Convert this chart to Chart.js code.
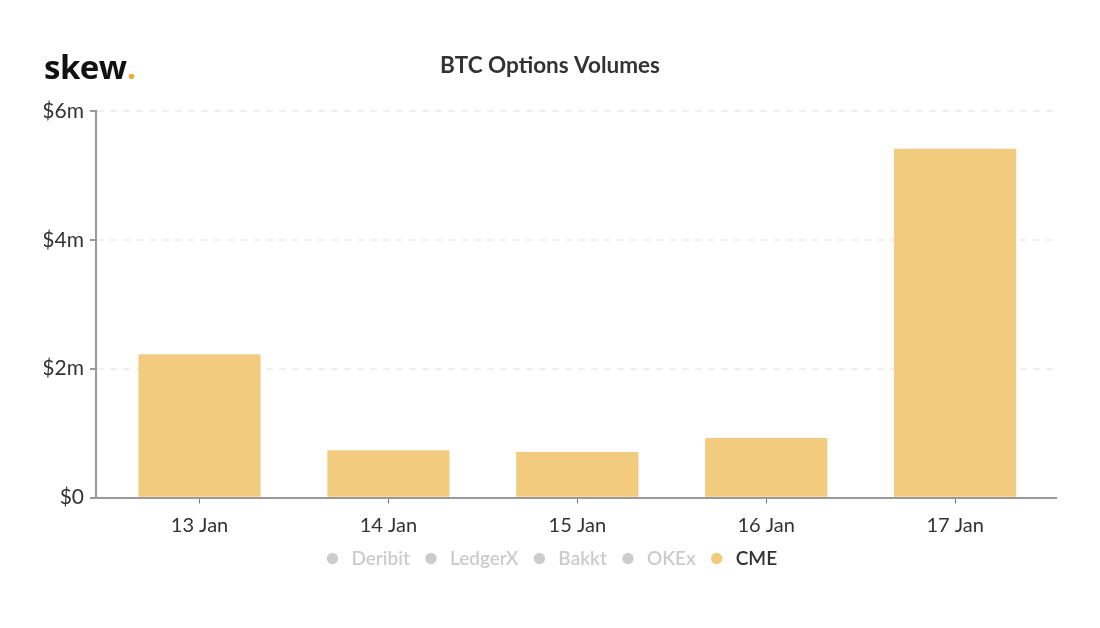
<!DOCTYPE html>
<html><head><meta charset="utf-8">
<style>
html,body{margin:0;padding:0;background:#fff;width:1100px;height:628px;overflow:hidden}
#wrap{position:relative;width:1100px;height:628px}
#logo{position:absolute;left:44px;top:43px;font:700 33px "Open Sans",sans-serif;color:#111;letter-spacing:-0.5px;line-height:48px}
#logo span{color:#e9ae3c}
canvas{display:block}
</style>
<script src="https://cdn.jsdelivr.net/npm/chart.js@4"></script>
</head><body>
<div id="wrap"><canvas id="c" width="1100" height="628"></canvas><div id="logo">skew<span>.</span></div></div>
<script>
const days = ["13 Jan","14 Jan","15 Jan","16 Jan","17 Jan"];
const cmeVolumes = [2.22,0.73,0.70,0.92,5.41];
const hiddenSeries = ["Deribit","LedgerX","Bakkt","OKEx"];
const yTicks = [0,2,4,6];
const chartTitle = "BTC Options Volumes";
const font = "Lato";
const amber = "#f2cb7e";
const datasets = hiddenSeries.map(n => ({label:n,data:[],hidden:true,backgroundColor:"#ccc"}));
datasets.push({label:"CME",data:cmeVolumes.map((v,i)=>({x:i,y:v})),backgroundColor:amber,barThickness:121.5});
new Chart(document.getElementById("c"),{
  type:"bar",
  data:{datasets},
  options:{
    responsive:false,animation:false,devicePixelRatio:1,
    layout:{padding:{left:44,right:44,top:0,bottom:50}},
    scales:{
      x:{type:"linear",offset:false,min:-0.548,max:4.534,
        afterFit:s=>{s.height=40;},
        border:{color:"#999",width:2},
        grid:{offset:false,drawOnChartArea:false,tickLength:6,tickColor:"#777",tickWidth:1},
        ticks:{stepSize:1,includeBounds:false,maxRotation:0,autoSkip:false,padding:10,color:"#333",font:{family:font,size:20},
          callback:v=>days[v]}},
      y:{min:0,max:6,
        afterFit:s=>{s.width=52;},
        border:{color:"#999",width:2,dash:[7,6]},
        grid:{color:"#f0f0f0",tickColor:"#999",tickLength:6,lineWidth:2,tickWidth:2},
        afterBuildTicks:s=>{s.ticks=yTicks.map(v=>({value:v}));},
        ticks:{padding:6,color:"#333",font:{family:font,size:21},callback:v=>"$"+v+(v?"m":"")}}
    },
    plugins:{
      tooltip:{enabled:false},
      title:{display:true,text:chartTitle,color:"#333",font:{family:font,size:22.5,weight:"700"},padding:{top:52,bottom:32}},
      legend:{position:"bottom",
        labels:{usePointStyle:true,boxHeight:8,boxWidth:20,padding:11.5,font:{family:font,size:19,weight:"600"},
          generateLabels:ch=>ch.data.datasets.map((d,i)=>({text:d.label,fillStyle:d.hidden?"#ccc":amber,strokeStyle:"transparent",lineWidth:0,pointStyle:"circle",fontColor:d.hidden?"#ccc":"#333",hidden:false,datasetIndex:i}))}}
    }
  }
});
</script>
</body></html>
